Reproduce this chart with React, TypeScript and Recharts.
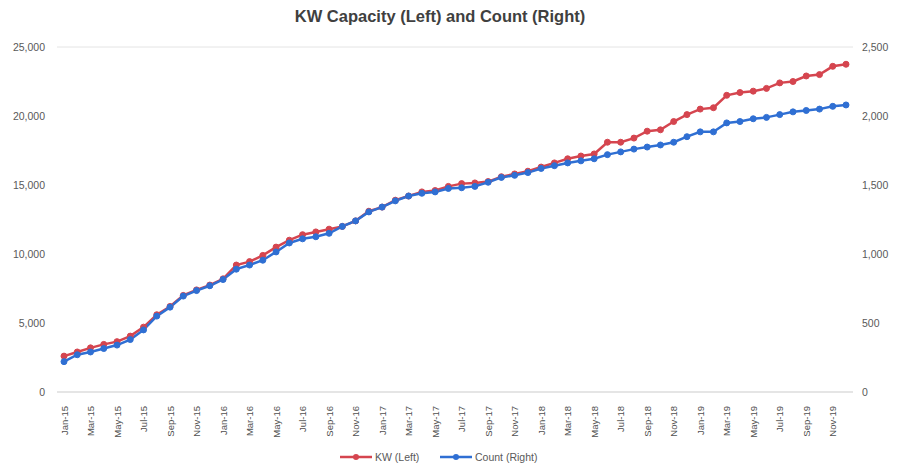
import React from "react";
import { LineChart, Line, XAxis, YAxis, CartesianGrid, Legend } from "recharts";

const months = [
  "Jan-15", "Feb-15", "Mar-15", "Apr-15", "May-15", "Jun-15", "Jul-15", "Aug-15", "Sep-15", "Oct-15", "Nov-15", "Dec-15",
  "Jan-16", "Feb-16", "Mar-16", "Apr-16", "May-16", "Jun-16", "Jul-16", "Aug-16", "Sep-16", "Oct-16", "Nov-16", "Dec-16",
  "Jan-17", "Feb-17", "Mar-17", "Apr-17", "May-17", "Jun-17", "Jul-17", "Aug-17", "Sep-17", "Oct-17", "Nov-17", "Dec-17",
  "Jan-18", "Feb-18", "Mar-18", "Apr-18", "May-18", "Jun-18", "Jul-18", "Aug-18", "Sep-18", "Oct-18", "Nov-18", "Dec-18",
  "Jan-19", "Feb-19", "Mar-19", "Apr-19", "May-19", "Jun-19", "Jul-19", "Aug-19", "Sep-19", "Oct-19", "Nov-19", "Dec-19",
];

// KW capacity, left axis
const kwLeft = [
  2600, 2900, 3200, 3450, 3650, 4050, 4700, 5600, 6200, 7000, 7400, 7750,
  8200, 9200, 9450, 9900, 10500, 11000, 11400, 11600, 11800, 12000, 12400, 13100,
  13400, 13900, 14200, 14500, 14600, 14900, 15100, 15150, 15250, 15600, 15800, 16000,
  16300, 16600, 16900, 17100, 17250, 18100, 18100, 18400, 18900, 19000, 19600, 20100,
  20500, 20600, 21500, 21700, 21800, 22000, 22400, 22500, 22900, 23000, 23600, 23750,
];

// count, right axis
const countRight = [
  220, 270, 290, 315, 340, 380, 450, 550, 615, 695, 735, 770,
  815, 890, 920, 955, 1015, 1080, 1110, 1125, 1150, 1200, 1240, 1305,
  1340, 1385, 1420, 1440, 1450, 1475, 1480, 1490, 1520, 1555, 1570, 1590,
  1620, 1640, 1660, 1675, 1690, 1720, 1740, 1760, 1775, 1790, 1810, 1850,
  1885, 1885, 1950, 1960, 1980, 1990, 2010, 2030, 2040, 2050, 2070, 2080,
];

const leftTicks = [0, 5000, 10000, 15000, 20000, 25000];
const rightTicks = [0, 500, 1000, 1500, 2000, 2500];

const RED = "#d5454f";
const BLUE = "#2f6fd3";
const FONT = "'Liberation Sans', Arial, sans-serif";

const data = months.map((m, i) => ({ month: m, kw: kwLeft[i], count: countRight[i] }));

const fmt = (v: number) => v.toLocaleString("en-US");

const MonthTick = ({ x, y, payload }: any) => (
  <text
    x={x}
    y={y + 6}
    transform={`rotate(-90 ${x} ${y + 6})`}
    textAnchor="end"
    dominantBaseline="central"
    fontSize={9.5}
    fill="#505050"
    fontFamily={FONT}
  >
    {payload.value}
  </text>
);

const LegendContent = () => (
  <div style={{ position: "relative", height: 20, fontFamily: FONT, fontSize: 10.5, color: "#595959" }}>
    {[
      { label: "KW (Left)", color: RED, x: 340 },
      { label: "Count (Right)", color: BLUE, x: 440 },
    ].map((it) => (
      <div key={it.label} style={{ position: "absolute", left: it.x, top: 2, display: "flex", alignItems: "center" }}>
        <svg width={32} height={10}>
          <line x1={0} y1={5} x2={32} y2={5} stroke={it.color} strokeWidth={2.5} />
          <circle cx={16} cy={5} r={3} fill={it.color} />
        </svg>
        <span style={{ marginLeft: 3 }}>{it.label}</span>
      </div>
    ))}
  </div>
);

export default function App() {
  return (
    <div style={{ position: "absolute", left: 0, top: 0, width: 899, height: 472, background: "#fff" }}>
      <div
        style={{
          position: "absolute",
          left: 0,
          top: 7,
          width: 880,
          textAlign: "center",
          fontFamily: FONT,
          fontWeight: "bold",
          fontSize: 16.5,
          color: "#404040",
        }}
      >
        KW Capacity (Left) and Count (Right)
      </div>
      <LineChart width={899} height={472} data={data} margin={{ top: 47, right: 6, bottom: 30, left: 7 }}>
        <CartesianGrid vertical={false} stroke="#e4e4e4" />
        <XAxis
          dataKey="month"
          interval={1}
          tick={<MonthTick />}
          tickLine={false}
          axisLine={{ stroke: "#d9d9d9" }}
          padding={{ left: 7, right: 7 }}
          height={50}
        />
        <YAxis
          yAxisId="left"
          domain={[0, 25000]}
          ticks={leftTicks}
          tickFormatter={fmt}
          axisLine={false}
          tickLine={false}
          tickMargin={6}
          width={50}
          tick={{ fontSize: 10.5, fill: "#595959", fontFamily: FONT }}
        />
        <YAxis
          yAxisId="right"
          orientation="right"
          domain={[0, 2500]}
          ticks={rightTicks}
          tickFormatter={fmt}
          axisLine={false}
          tickLine={false}
          tickMargin={3}
          width={40}
          tick={{ fontSize: 10.5, fill: "#595959", fontFamily: FONT, textAnchor: "start" }}
        />
        <Legend
          layout="horizontal"
          verticalAlign="middle"
          align="center"
          content={<LegendContent />}
          wrapperStyle={{ top: 449, left: 0, width: 899 }}
        />
        <Line
          yAxisId="left"
          type="linear"
          dataKey="kw"
          name="KW (Left)"
          stroke={RED}
          strokeWidth={2.5}
          dot={{ r: 3, fill: RED, stroke: RED, strokeWidth: 1 }}
          isAnimationActive={false}
        />
        <Line
          yAxisId="right"
          type="linear"
          dataKey="count"
          name="Count (Right)"
          stroke={BLUE}
          strokeWidth={2.5}
          dot={{ r: 3, fill: BLUE, stroke: BLUE, strokeWidth: 1 }}
          isAnimationActive={false}
        />
      </LineChart>
    </div>
  );
}
